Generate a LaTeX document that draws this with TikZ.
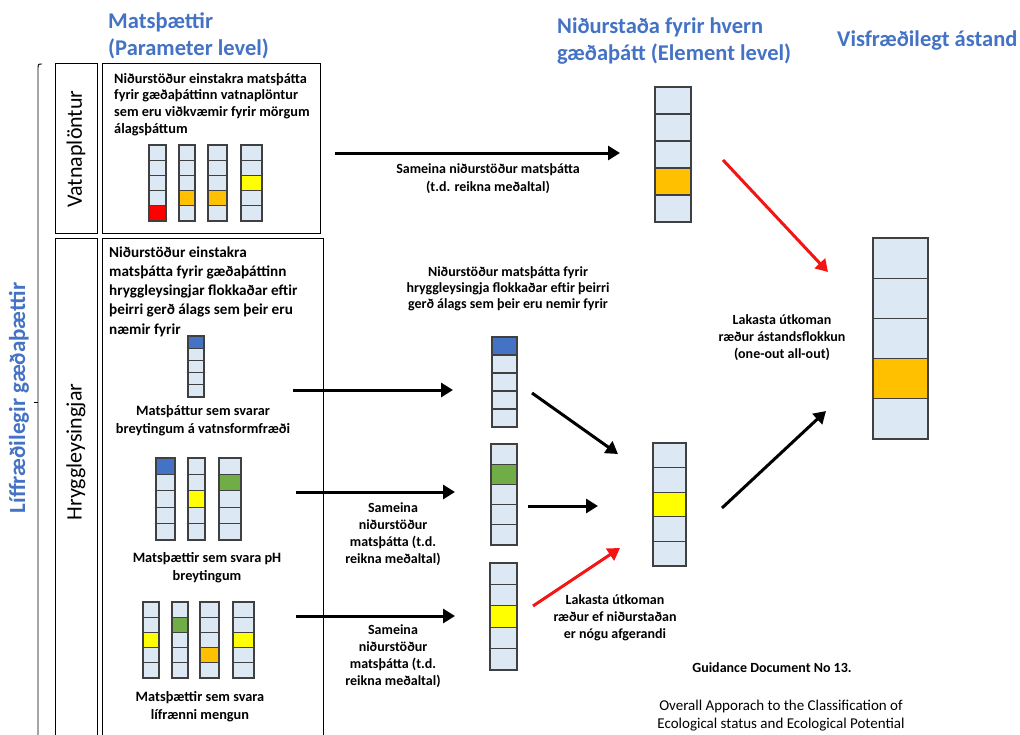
\documentclass[tikz,border=0pt]{standalone}
\usepackage{fontspec}
\setmainfont{Carlito}
\usetikzlibrary{arrows.meta}
\definecolor{hdrblue}{RGB}{68,114,196}
\definecolor{cellbg}{RGB}{221,232,245}
\definecolor{cblue}{RGB}{68,114,196}
\definecolor{corange}{RGB}{255,192,0}
\definecolor{cyellow}{RGB}{255,255,0}
\definecolor{cred}{RGB}{255,0,0}
\definecolor{cgreen}{RGB}{112,173,71}
\definecolor{cellline}{RGB}{64,64,64}
\definecolor{arrred}{RGB}{245,20,20}
\tikzset{
  baranchor/.style={draw=none, inner sep=0pt, outer sep=0pt},
  cellstyle/.style={draw=cellline, line width=1.2pt},
  framebox/.style={draw=black, line width=0.9pt, inner sep=0pt, outer sep=0pt, anchor=north west},
  fs/.style 2 args={font=\bfseries\fontsize{#1}{#2}\selectfont, align=center, inner sep=0pt},
  fsr/.style 2 args={font=\fontsize{#1}{#2}\selectfont, align=center, inner sep=0pt},
  hdr/.style={font=\bfseries\fontsize{22.5}{27}\selectfont, text=hdrblue, align=left, inner sep=0pt},
  bigarrow/.style={draw=black, line width=3pt, -{Triangle[length=12pt,width=14pt]}},
  redarrow/.style={draw=arrred, line width=3pt, -{Triangle[length=12pt,width=14pt]}},
}
\newcommand{\stackbar}[7]{%
  \pgfmathsetmacro\barh{5*#5}%
  \node[baranchor, minimum width=#4pt, minimum height=\barh pt, anchor=north west] (#1) at (#2,#3) {};
  \foreach \i in {1,...,5}{%
    \ifnum\i=#6 \def\cc{#7}\else\def\cc{cellbg}\fi
    \filldraw[cellstyle, fill=\cc] ({#2},{#3+(\i-1)*#5}) rectangle ++(#4,#5);
  }%
}
\begin{document}
\begin{tikzpicture}[x=1pt,y=-1pt]
\clip (0,0) rectangle (1020,734);
\fill[white] (0,0) rectangle (1020,734);

% headers
\node[hdr, anchor=west] (h1) at (108,36) {Matsþættir\\(Parameter level)};
\node[hdr, anchor=west] (h2) at (557,41.5) {Niðurstaða fyrir hvern\\gæðaþátt (Element level)};
\node[hdr, anchor=west] (h3) at (837,41) {Visfræðilegt ástand};
\node[hdr, font=\bfseries\fontsize{23}{27}\selectfont, rotate=90, anchor=center] (side) at (19,398) {Líffræðilegir gæðaþættir};

% bracket
\draw[line width=0.9pt] (42,64) .. controls (38,64) .. (38,70) -- (38,745);
\draw[line width=0.9pt] (38,402) -- (34,402);

% frames
\node[framebox, minimum width=42pt, minimum height=170pt] (vlab) at (55,63) {};
\node[framebox, minimum width=218pt, minimum height=170pt] (vbox) at (102,63) {};
\node[framebox, minimum width=42pt, minimum height=512pt] (hlab) at (55,238) {};
\node[framebox, minimum width=221pt, minimum height=512pt] (hbox) at (102,238) {};
\node[fsr={22}{26}, rotate=90] (vlabt) at (76,149) {Vatnaplöntur};
\node[fsr={22}{26}, rotate=90] (hlabt) at (76,452) {Hryggleysingjar};

% box texts
\node[fs={14.3}{16.8}, align=left, anchor=west] (vtext) at (114,104.5) {Niðurstöður einstakra matsþátta\\fyrir gæðaþáttinn vatnaplöntur\\sem eru viðkvæmir fyrir mörgum\\álagsþáttum};
\node[fs={15.2}{19.2}, align=left, anchor=west] (htext) at (109,291.5) {Niðurstöður einstakra\\matsþátta fyrir gæðaþáttinn\\hryggleysingjar flokkaðar eftir\\þeirri gerð álags sem þeir eru\\næmir fyrir};

% parameter bars - vatnaplontur
\stackbar{vb1}{149}{145}{17}{15.2}{5}{cred}
\stackbar{vb2}{179}{145}{16}{15.2}{4}{corange}
\stackbar{vb3}{208}{145}{19}{15.2}{4}{corange}
\stackbar{vb4}{241}{145}{21}{15.2}{3}{cyellow}

% hryggleysingjar parameter bars
\stackbar{hb1}{188}{336}{16}{12.2}{1}{cblue}
\node[fs={14.3}{18}] (t1) at (203,421) {Matsþáttur sem svarar\\breytingum á vatnsformfræði};
\stackbar{pb1}{156}{458}{19}{16.4}{1}{cblue}
\stackbar{pb2}{188}{458}{17}{16.4}{3}{cyellow}
\stackbar{pb3}{219}{458}{22}{16.4}{2}{cgreen}
\node[fs={14.3}{18}] (t2) at (207,568) {Matsþættir sem svara pH\\breytingum};
\stackbar{lb1}{143}{602}{16}{15.2}{3}{cyellow}
\stackbar{lb2}{172}{602}{16}{15.2}{2}{cgreen}
\stackbar{lb3}{200}{602}{19}{15.2}{4}{corange}
\stackbar{lb4}{233}{602}{21}{15.2}{3}{cyellow}
\node[fs={14.3}{18}] (t3) at (200,707) {Matsþættir sem svara\\lífrænni mengun};

% middle bars
\node[fs={14}{16}] (midt) at (508,289) {Niðurstöður matsþátta fyrir\\hryggleysingja flokkaðar eftir þeirri\\gerð álags sem þeir eru nemir fyrir};
\stackbar{mb1}{492}{337}{25}{18}{1}{cblue}
\stackbar{mb2}{491}{444}{26}{20.2}{2}{cgreen}
\stackbar{mb3}{490}{563}{27}{21.4}{3}{cyellow}

% element bars
\stackbar{eb1}{655}{87}{36}{27}{4}{corange}
\stackbar{eb2}{653}{443}{33}{24.6}{3}{cyellow}
% final bar
\stackbar{fb}{873}{238}{55}{40.2}{4}{corange}

% arrow labels
\node[fs={14}{18}] (l1) at (488,179) {Sameina niðurstöður matsþátta\\(t.d. reikna meðaltal)};
\node[fs={14}{17}] (l2) at (393,534) {Sameina\\niðurstöður\\matsþátta (t.d.\\reikna meðaltal)};
\node[fs={14}{17}] (l3) at (393,656) {Sameina\\niðurstöður\\matsþátta (t.d.\\reikna meðaltal)};
\node[fs={14}{17}] (l4) at (615,618) {Lakasta útkoman\\ræður ef niðurstaðan\\er nógu afgerandi};
\node[fs={14}{17}] (l5) at (782,338) {Lakasta útkoman\\ræður ástandsflokkun\\(one-out all-out)};
\node[fs={14}{16}] (guid) at (772,668) {Guidance Document No 13.};
\node[fsr={15}{18}] (over) at (781,716) {Overall Apporach to the Classification of\\Ecological status and Ecological Potential};

% arrow coordinates
\coordinate (a1s) at (335,153); \coordinate (a1e) at (620,153);
\coordinate (a2s) at (293,390); \coordinate (a2e) at (453,390);
\coordinate (a3s) at (296,492); \coordinate (a3e) at (455,492);
\coordinate (a4s) at (296,616); \coordinate (a4e) at (455,616);
\coordinate (a5s) at (532,393); \coordinate (a5e) at (618,454);
\coordinate (a6s) at (528,506); \coordinate (a6e) at (598,506);
\coordinate (a7s) at (533,606); \coordinate (a7e) at (620,548);
\coordinate (a8s) at (723,160); \coordinate (a8e) at (828,272);
\coordinate (a9s) at (722,508); \coordinate (a9e) at (826,411);

\draw[bigarrow] (a1s) -- (a1e);
\draw[bigarrow] (a2s) -- (a2e);
\draw[bigarrow] (a3s) -- (a3e);
\draw[bigarrow] (a4s) -- (a4e);
\draw[bigarrow] (a5s) -- (a5e);
\draw[bigarrow] (a6s) -- (a6e);
\draw[redarrow] (a7s) -- (a7e);
\draw[redarrow] (a8s) -- (a8e);
\draw[bigarrow] (a9s) -- (a9e);
\end{tikzpicture}
\end{document}
